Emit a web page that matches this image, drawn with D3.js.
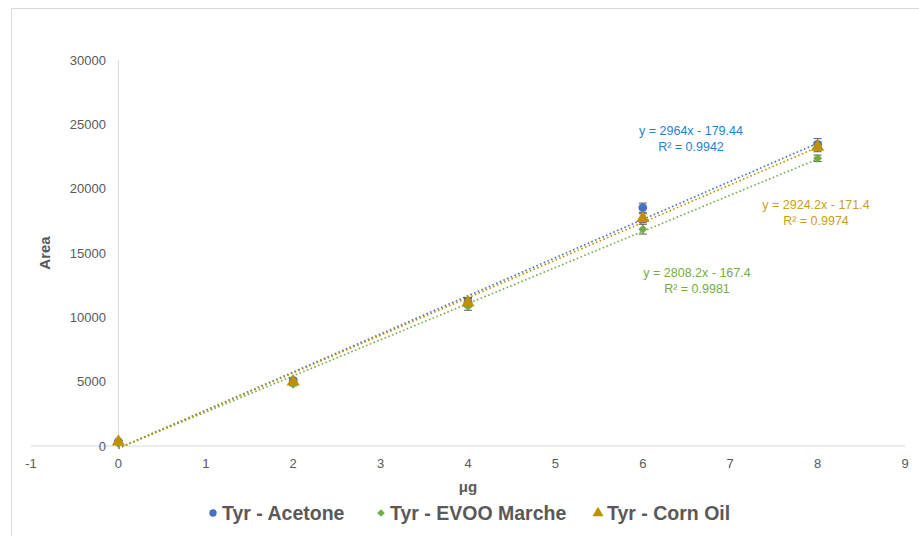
<!DOCTYPE html>
<html><head><meta charset="utf-8">
<script src="https://cdn.jsdelivr.net/npm/d3@7"></script>
<style>
html,body{margin:0;padding:0;background:#fff;}
svg{display:block;font-family:"Liberation Sans",Arial,sans-serif;}
</style></head>
<body><svg id="c" width="919" height="536"></svg>
<script>
const xValues = [0, 2, 4, 6, 8];
const acetone = [350, 5100, 11200, 18520, 23450];
const evoo = [200, 4800, 10850, 16850, 22360];
const cornOil = [330, 5000, 11140, 17700, 23250];
const acetoneErr = [80, 150, 350, 360, 440];
const evooErr = [60, 120, 300, 380, 250];
const cornErr = [60, 120, 330, 350, 380];
const seriesNames = ["Tyr - Acetone", "Tyr - EVOO Marche", "Tyr - Corn Oil"];
const trendSlopes = [2964, 2808.2, 2924.2];
const trendIntercepts = [-179.44, -167.4, -171.4];
const trendLabels = [["y = 2964x - 179.44", "R² = 0.9942"], ["y = 2808.2x - 167.4", "R² = 0.9981"], ["y = 2924.2x - 171.4", "R² = 0.9974"]];
const xTicks = [-1, 0, 1, 2, 3, 4, 5, 6, 7, 8, 9];
const yTicks = [0, 5000, 10000, 15000, 20000, 25000, 30000];

const colors = ["#4472C4", "#70AD47", "#BF9000"];
const labelColors = ["#1F80D0", "#70AD47", "#C9A020"];
const svg = d3.select("#c");

// frame
svg.append("path").attr("d", "M11.5,536 V8.5 H919").attr("fill", "none").attr("stroke", "#D9D9D9");

const x = d3.scaleLinear().domain([-1, 9]).range([31, 905]);
const y = d3.scaleLinear().domain([0, 30000]).range([446, 60]);

// axes
svg.append("line").attr("x1", x(-1)).attr("x2", x(9)).attr("y1", y(0)).attr("y2", y(0)).attr("stroke", "#D9D9D9").attr("stroke-width", 1);
svg.append("line").attr("x1", x(0)).attr("x2", x(0)).attr("y1", y(0)).attr("y2", y(30000)).attr("stroke", "#D9D9D9").attr("stroke-width", 1);

svg.append("g").selectAll("text").data(yTicks).join("text")
  .attr("x", 106).attr("y", d => y(d)).attr("dy", "0.35em").attr("text-anchor", "end")
  .attr("font-size", 13).attr("fill", "#595959").text(d => d);
svg.append("g").selectAll("text").data(xTicks).join("text")
  .attr("x", d => x(d)).attr("y", 468).attr("text-anchor", "middle")
  .attr("font-size", 13).attr("fill", "#595959").text(d => d);

svg.append("text").attr("transform", "translate(50,253) rotate(-90)").attr("text-anchor", "middle")
  .attr("font-size", 15).attr("font-weight", "bold").attr("fill", "#595959").text("Area");
svg.append("text").attr("x", x(4)).attr("y", 492).attr("text-anchor", "middle")
  .attr("font-size", 15).attr("font-weight", "bold").attr("fill", "#595959").text("μg");

const data = [acetone, evoo, cornOil];
const errs = [acetoneErr, evooErr, cornErr];

// trendlines
data.forEach((s, i) => {
  const line = d3.line().x(d => x(d)).y(d => y(trendSlopes[i] * d + trendIntercepts[i]));
  svg.append("path").datum([0, 8]).attr("d", line).attr("fill", "none")
    .attr("stroke", colors[i]).attr("stroke-width", 1.6).attr("stroke-dasharray", "1.6,2.4");
});

// error bars
data.forEach((s, i) => {
  const g = svg.append("g").attr("stroke", "#595959").attr("stroke-width", 1);
  xValues.forEach((xv, j) => {
    const e = errs[i][j];
    const top = y(s[j] + e), bot = y(s[j] - e), cx = x(xv);
    g.append("line").attr("x1", cx).attr("x2", cx).attr("y1", top).attr("y2", bot);
    g.append("line").attr("x1", cx - 4).attr("x2", cx + 4).attr("y1", top).attr("y2", top);
    g.append("line").attr("x1", cx - 4).attr("x2", cx + 4).attr("y1", bot).attr("y2", bot);
  });
});

const symbols = [d3.symbolCircle, d3.symbolSquare, d3.symbolTriangle];
const sizes = [60, 40, 75];
const rotations = [0, 45, 0];
data.forEach((s, i) => {
  svg.append("g").selectAll("path").data(xValues).join("path")
    .attr("transform", (d, j) => `translate(${x(d)},${y(s[j])}) rotate(${rotations[i]})`)
    .attr("d", d3.symbol().type(symbols[i]).size(sizes[i]))
    .attr("fill", colors[i]);
});

// trendline labels
const labelPos = [[691, 135], [697, 277], [816, 209]];
trendLabels.forEach((t, i) => {
  const tx = svg.append("text").attr("text-anchor", "middle").attr("font-size", 12.5).attr("fill", labelColors[i]);
  tx.append("tspan").attr("x", labelPos[i][0]).attr("y", labelPos[i][1]).text(t[0]);
  tx.append("tspan").attr("x", labelPos[i][0]).attr("y", labelPos[i][1] + 15.5).text(t[1]);
});

// legend
const legX = [213, 381, 598];
seriesNames.forEach((n, i) => {
  svg.append("path").attr("transform", `translate(${legX[i]},${513}) rotate(${rotations[i]})`)
    .attr("d", d3.symbol().type(symbols[i]).size(sizes[i] * 0.7)).attr("fill", colors[i]);
  svg.append("text").attr("x", legX[i] + 9).attr("y", 519.5).attr("font-size", 19.5)
    .attr("font-weight", "bold").attr("fill", "#595959").text(n);
});
</script></body></html>
